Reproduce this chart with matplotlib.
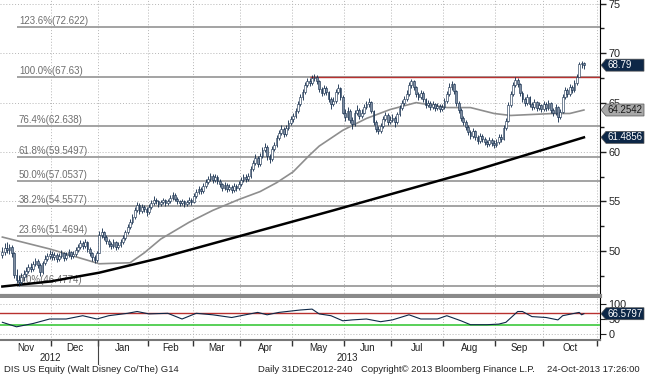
import numpy as np
import matplotlib
matplotlib.use("Agg")
import matplotlib.pyplot as plt
from matplotlib.patches import Polygon
from matplotlib.lines import Line2D
from matplotlib.transforms import IdentityTransform

plt.rcParams["font.family"] = ["Liberation Sans", "DejaVu Sans"]

# ---- data (daily bars, 01-Nov-2012 .. 24-Oct-2013) ----
months = ["Nov", "Dec", "Jan", "Feb", "Mar", "Apr", "May", "Jun", "Jul", "Aug", "Sep", "Oct"]
month_days = [21, 20, 21, 19, 20, 22, 22, 20, 22, 22, 20, 23]
years = ["2012", "2013"]

close = [
    49.9, 50.3, 50.1, 50.4, 49.8, 47.6, 47.1, 46.9, 47.4, 47.7, 48.0, 48.4, 48.2, 48.7, 49.0, 48.6, 47.9, 48.8, 49.2, 49.5, 49.7,
    49.4, 49.6, 49.2, 49.5, 49.8, 49.3, 49.6, 49.9, 49.5, 49.7, 50.1, 50.4, 50.8, 50.5, 50.9, 50.2, 49.8, 49.4, 49.1, 49.8,
    51.6, 51.9, 51.4, 51.0, 50.7, 50.5, 50.9, 50.4, 50.6, 50.9, 51.3, 51.9, 52.4, 52.9, 53.4, 54.1, 54.6, 54.0, 54.4, 54.2, 53.9,
    54.4, 54.8, 55.2, 55.0, 54.7, 54.9, 55.1, 54.8, 55.0, 55.4, 55.7, 55.3, 55.0, 54.8, 55.0, 54.7, 54.9, 55.2, 54.9,
    55.6, 56.0, 56.3, 56.1, 56.6, 57.0, 57.3, 57.6, 57.2, 57.5, 57.1, 56.8, 56.4, 56.7, 56.3, 56.5, 56.2, 56.6, 56.4, 56.8,
    57.2, 57.5, 57.3, 57.6, 58.3, 58.9, 59.4, 58.8, 59.6, 60.2, 60.5, 59.6, 59.3, 60.3, 60.7, 61.4, 61.9, 62.3, 61.8, 62.4, 62.9, 63.3,
    63.6, 64.2, 64.9, 65.6, 66.1, 66.8, 67.2, 67.0, 67.5, 67.6, 67.2, 66.4, 66.0, 66.5, 66.1, 65.4, 64.9, 65.2, 66.1, 66.5, 65.6, 64.0,
    63.5, 64.2, 63.2, 62.8, 63.9, 64.3, 63.6, 64.0, 64.6, 64.9, 65.1, 64.2, 63.0, 62.3, 62.1, 62.6, 63.3, 63.7, 63.0, 63.2,
    63.4, 63.0, 63.8, 64.5, 65.0, 65.4, 65.9, 66.8, 67.2, 66.6, 65.9, 65.6, 66.0, 65.4, 64.8, 65.0, 64.6, 64.9, 64.5, 64.7, 64.4, 64.6,
    65.2, 65.9, 66.6, 66.9, 66.2, 65.0, 64.3, 63.4, 63.0, 62.5, 62.0, 61.6, 62.1, 61.5, 61.1, 61.6, 61.3, 61.0, 60.8, 61.2, 60.9, 60.7,
    61.0, 61.5, 61.3, 62.4, 63.1, 64.8, 65.9, 66.8, 67.3, 66.9, 66.0, 65.4, 65.0, 65.6, 64.9, 64.6, 65.1, 64.5, 64.8, 64.4,
    64.9, 64.5, 65.0, 64.3, 63.9, 64.6, 63.5, 64.1, 65.6, 66.3, 65.9, 66.6, 66.3, 67.0, 67.6, 68.9, 69.0, 68.79,
]
high = [
    50.4, 50.8, 50.9, 50.7, 50.6, 49.9, 48.2, 47.6, 47.8, 48.1, 48.4, 48.7, 48.8, 49.0, 49.3, 49.2, 48.8, 49.0, 49.6, 49.8, 50.1,
    50.0, 49.9, 49.8, 49.8, 50.1, 49.9, 49.9, 50.2, 50.0, 50.0, 50.4, 50.7, 51.1, 51.0, 51.2, 51.0, 50.4, 49.9, 49.6, 50.0,
    52.0, 52.3, 52.0, 51.6, 51.2, 50.9, 51.2, 51.0, 50.9, 51.2, 51.6, 52.1, 52.7, 53.2, 53.7, 54.4, 54.9, 54.8, 54.7, 54.6, 54.4,
    54.7, 55.1, 55.6, 55.4, 55.2, 55.2, 55.4, 55.3, 55.3, 55.7, 56.0, 55.9, 55.5, 55.2, 55.3, 55.2, 55.2, 55.5, 55.4,
    55.9, 56.3, 56.6, 56.5, 56.9, 57.3, 57.6, 57.9, 57.8, 57.8, 57.7, 57.3, 56.9, 57.0, 56.9, 56.8, 56.7, 56.9, 56.8, 57.1,
    57.5, 57.8, 57.8, 57.9, 58.6, 59.2, 59.8, 59.6, 59.9, 60.5, 60.9, 60.7, 59.8, 60.6, 61.0, 61.7, 62.2, 62.7, 62.5, 62.7, 63.2, 63.6,
    64.0, 64.5, 65.2, 65.9, 66.4, 67.1, 67.5, 67.5, 67.8, 67.9, 67.8, 67.3, 66.6, 66.8, 66.7, 66.2, 65.6, 65.6, 66.4, 66.9, 66.6, 65.8,
    64.4, 64.6, 64.4, 63.5, 64.3, 64.8, 64.5, 64.4, 64.9, 65.2, 65.5, 65.2, 64.3, 63.2, 62.6, 62.9, 63.6, 64.1, 63.9, 63.6,
    63.8, 63.6, 64.1, 64.8, 65.3, 65.7, 66.3, 67.1, 67.4, 67.3, 66.7, 66.1, 66.3, 66.2, 65.5, 65.3, 65.2, 65.2, 65.0, 65.0, 64.9, 64.9,
    65.5, 66.2, 67.0, 67.2, 67.0, 66.3, 65.2, 64.5, 63.6, 63.2, 62.7, 62.2, 62.4, 62.2, 61.7, 61.9, 61.8, 61.5, 61.2, 61.5, 61.4, 61.2,
    61.3, 61.8, 61.8, 62.7, 63.4, 65.1, 66.2, 67.1, 67.6, 67.5, 67.0, 66.2, 65.6, 65.9, 65.7, 65.1, 65.4, 65.2, 65.1, 64.9,
    65.2, 65.1, 65.3, 65.1, 64.5, 64.9, 64.7, 64.4, 65.9, 66.6, 66.5, 66.9, 66.8, 67.3, 67.9, 69.1, 69.2, 69.1,
]
low = [
    49.3, 49.6, 49.8, 49.7, 49.4, 47.3, 46.8, 46.5, 46.6, 47.0, 47.4, 47.8, 47.9, 48.0, 48.5, 48.3, 47.5, 47.7, 48.6, 49.0, 49.2,
    49.1, 49.1, 48.9, 49.0, 49.3, 49.0, 49.1, 49.4, 49.2, 49.3, 49.5, 49.9, 50.2, 50.2, 50.3, 49.9, 49.5, 49.0, 48.8, 48.9,
    49.8, 51.3, 51.1, 50.7, 50.4, 50.2, 50.3, 50.1, 50.2, 50.4, 50.7, 51.1, 51.7, 52.2, 52.7, 53.2, 53.9, 53.7, 53.8, 53.9, 53.5,
    53.7, 54.2, 54.6, 54.7, 54.4, 54.5, 54.7, 54.5, 54.6, 54.8, 55.2, 55.0, 54.7, 54.5, 54.6, 54.4, 54.5, 54.7, 54.6,
    54.8, 55.4, 55.8, 55.8, 55.9, 56.4, 56.8, 57.1, 56.9, 57.0, 56.8, 56.5, 56.1, 56.2, 56.0, 56.1, 55.9, 56.0, 56.1, 56.2,
    56.6, 57.0, 57.0, 57.1, 57.4, 58.1, 58.7, 58.5, 58.6, 59.4, 60.0, 59.2, 58.9, 59.1, 60.1, 60.5, 61.2, 61.7, 61.5, 61.6, 62.2, 62.7,
    63.0, 63.4, 64.0, 64.7, 65.3, 65.9, 66.6, 66.7, 66.8, 67.2, 66.9, 66.1, 65.7, 65.8, 65.8, 65.1, 64.4, 64.7, 65.0, 65.9, 65.3, 63.8,
    63.1, 63.2, 62.9, 62.3, 62.6, 63.7, 63.3, 63.4, 63.8, 64.4, 64.6, 63.9, 62.7, 62.0, 61.8, 61.9, 62.4, 63.1, 62.7, 62.8,
    63.0, 62.5, 62.8, 63.6, 64.3, 64.8, 65.2, 65.7, 66.5, 66.3, 65.6, 65.3, 65.4, 65.1, 64.5, 64.6, 64.3, 64.4, 64.2, 64.3, 64.1, 64.2,
    64.4, 65.0, 65.7, 66.3, 65.9, 64.7, 64.0, 63.1, 62.7, 62.2, 61.7, 61.3, 61.4, 61.2, 60.8, 60.9, 61.0, 60.7, 60.5, 60.6, 60.6, 60.4,
    60.5, 60.8, 61.0, 61.2, 62.2, 63.0, 64.6, 65.7, 66.6, 66.6, 65.7, 65.1, 64.7, 64.8, 64.6, 64.3, 64.4, 64.2, 64.3, 64.1,
    64.2, 64.2, 64.3, 64.0, 63.6, 63.7, 63.0, 63.3, 64.0, 65.4, 65.6, 65.7, 66.0, 66.1, 66.8, 67.6, 68.5, 68.4,
]
first_open = 49.6

# moving averages (grey = 50 day, black = 200 day), read at trading-day positions
ma50_day = [0, 20, 41, 54, 60, 67, 79, 89, 100, 109, 116, 123, 130, 134, 144, 154, 164, 175, 188, 198, 208, 215, 233, 240, 246]
ma50_val = [51.4, 50.2, 48.7, 48.8, 49.8, 51.2, 52.9, 54.1, 55.2, 56.0, 56.9, 58.0, 59.7, 60.6, 62.2, 63.4, 64.3, 65.0, 64.5, 64.5,
            63.9, 63.7, 63.9, 63.9, 64.2542]
ma200_day = [0, 20, 41, 67, 105, 140, 189, 198, 246]
ma200_val = [46.4, 46.9, 47.8, 49.3, 51.8, 54.1, 57.4, 58.0, 61.4856]

# RSI(14) panel
rsi_day = [0, 6, 13, 20, 27, 34, 40, 45, 53, 57, 62, 70, 76, 82, 89, 97, 108, 112, 117, 126, 131, 134, 139, 144, 148, 154, 160,
           165, 172, 177, 184, 188, 194, 198, 205, 210, 213, 218, 220, 224, 230, 235, 237, 244, 245, 246]
rsi_val = [38, 23, 34, 49, 49, 60, 49, 60, 68, 74, 66, 68, 49, 68, 63, 54, 71, 63, 71, 79, 82, 66, 60, 43, 46, 49, 40,
           46, 63, 49, 49, 60, 43, 30, 30, 32, 38, 74, 74, 57, 54, 46, 60, 71, 63, 66.5797]

fib_pct = ["123.6%", "100.0%", "76.4%", "61.8%", "50.0%", "38.2%", "23.6%", "0.0%"]
fib_val = [72.622, 67.63, 62.638, 59.5497, 57.0537, 54.5577, 51.4694, 46.4774]
fib_txt = ["72.622", "67.63", "62.638", "59.5497", "57.0537", "54.5577", "51.4694", "46.4774"]

# ---- figure ----
W, H = 645, 376
fig = plt.figure(figsize=(W / 100, H / 100), dpi=100)
navy = "#0d2747"
grid_c = "#b5b5b5"
txt_c = "#222222"

ax = fig.add_axes([0, 1 - 296 / H, 600 / W, 296 / H])
ax2 = fig.add_axes([0, 1 - 340 / H, 600 / W, 42 / H])

n = len(close)
x = np.arange(n)
c = np.array(close)
o = np.array([first_open] + close[:-1])
hi = np.array(high)
lo = np.array(low)

xmin, xmax = -1.0, 252.8
bounds = np.cumsum(month_days) - 0.5
bounds_all = np.concatenate([[-0.5], bounds])
centers = (bounds_all[:-1] + bounds_all[1:]) / 2

# grid
for b in bounds:
    ax.axvline(b, color=grid_c, lw=0.7, ls=(0, (1, 2)), zorder=0)
    ax2.axvline(b, color=grid_c, lw=0.7, ls=(0, (1, 2)), zorder=0)
for yv in range(50, 80, 5):
    ax.axhline(yv, color=grid_c, lw=0.7, ls=(0, (1, 2)), zorder=0)

# fib levels
fx0 = (17 - 2.4) / 2.364
for p, v, t in zip(fib_pct, fib_val, fib_txt):
    ax.hlines(v, fx0, xmax, color="#9c9c9c", lw=1.3, zorder=1)
    ax.text(fx0 + 0.8, v + 0.1, f"{p}({t})", fontsize=7, color="#6e6e6e", va="bottom", ha="left", zorder=1)
ax.hlines(67.63, 130, xmax, color="#b8312f", lw=1.0, zorder=2)

# moving averages
ax.plot(ma50_day, ma50_val, color="#8e8e8e", lw=1.2, zorder=3)
ax.plot(ma200_day, ma200_val, color="#000000", lw=1.8, zorder=3)

# candles
ax.vlines(x, lo, hi, color=navy, lw=0.6, zorder=4)
body_lo = np.minimum(o, c)
body_h = np.maximum(np.abs(c - o), 0.12)
up = c >= o
ax.bar(x[up], body_h[up], bottom=body_lo[up], width=0.75, color="white", edgecolor=navy, lw=0.4, zorder=5)
ax.bar(x[~up], body_h[~up], bottom=body_lo[~up], width=0.75, color="#7f8ea3", edgecolor=navy, lw=0.4, zorder=5)

ax.set_xlim(xmin, xmax)
ax.set_ylim(45.44, 75.38)
ax.yaxis.tick_right()
ax.set_yticks(range(50, 80, 5))
ax.set_yticks(np.arange(47.5, 76, 5), minor=True)
ax.tick_params(axis="y", which="major", direction="out", length=4, width=1, labelsize=7.8, pad=2, colors=txt_c)
ax.tick_params(axis="y", which="minor", direction="out", length=3, width=1, colors=txt_c)
ax.set_xticks([])
for s in ["top", "left"]:
    ax.spines[s].set_visible(False)
ax.spines["right"].set_color("black")
ax.spines["bottom"].set_color("#8a8a8a")
ax.spines["bottom"].set_linewidth(3)

# RSI panel
ax2.plot(rsi_day, rsi_val, color=navy, lw=0.8, zorder=4)
ax2.axhline(70, color="#b8312f", lw=1.0, zorder=3)
ax2.axhline(30, color="#3cc83c", lw=1.2, zorder=3)
for yv in (100, 0):
    ax2.axhline(yv, color=grid_c, lw=0.7, ls=(0, (1, 2)), zorder=0)
ax2.set_xlim(xmin, xmax)
ax2.set_ylim(-21, 119)
ax2.yaxis.tick_right()
ax2.set_yticks([0, 50, 100])
ax2.tick_params(axis="y", direction="out", length=4, labelsize=7.8, pad=2, colors=txt_c)
ax2.set_xticks(bounds)
ax2.set_xticklabels([])
ax2.set_xticks(centers, minor=True)
ax2.set_xticklabels(months, minor=True)
ax2.tick_params(axis="x", which="major", direction="out", length=4, width=1, colors="#333333")
ax2.tick_params(axis="x", which="minor", length=0, labelsize=7, pad=2.5, labelcolor=txt_c)
for s in ["top", "left"]:
    ax2.spines[s].set_visible(False)
ax2.spines["right"].set_color("black")
ax2.spines["bottom"].set_color("#777777")
ax2.spines["bottom"].set_linewidth(1.5)

# year labels and separator
fig.canvas.draw()
xpx = lambda d: ax.transData.transform((d, 0))[0]
sep = xpx(bounds[1])
fig.add_artist(Line2D([sep, sep], [H - 340, H - 364], color="#444444", lw=0.8, transform=IdentityTransform()))
fig.text(xpx(bounds[1] / 2) / W, (H - 358) / H, years[0], fontsize=7, ha="center", va="center", color=txt_c)
fig.text(xpx((bounds[1] + bounds[-1]) / 2) / W, (H - 358) / H, years[1], fontsize=7, ha="center", va="center", color=txt_c)


# value tags on the right
def tag(axis, val, text, fc, tc):
    y = axis.transData.transform((0, val))[1]
    pts = [(601, y), (606, y + 6), (644, y + 6), (644, y - 6), (606, y - 6)]
    fig.add_artist(Polygon(pts, closed=True, fc=fc, ec="#555555", lw=0.5, transform=IdentityTransform(), zorder=10))
    fig.text(607 / W, y / H, text, fontsize=7, color=tc, ha="left", va="center", zorder=11)


tag(ax, close[-1], "68.79", navy, "white")
tag(ax, ma50_val[-1], "64.2542", "#a8a8a8", "#1a1a1a")
tag(ax, ma200_val[-1], "61.4856", navy, "white")
tag(ax2, rsi_val[-1], "66.5797", navy, "white")

# footer
fy = (H - 369) / H
fig.text(4 / W, fy, "DIS US Equity (Walt Disney Co/The) G14", fontsize=6.8, va="center", ha="left", color=txt_c)
fig.text(258 / W, fy, "Daily 31DEC2012-240", fontsize=6.8, va="center", ha="left", color=txt_c)
fig.text(361 / W, fy, "Copyright\u00a9 2013 Bloomberg Finance L.P.", fontsize=6.8, va="center", ha="left", color=txt_c)
fig.text(547 / W, fy, "24-Oct-2013 17:26:00", fontsize=6.8, va="center", ha="left", color=txt_c)

fig.savefig("out.png", dpi=100, facecolor="white")
